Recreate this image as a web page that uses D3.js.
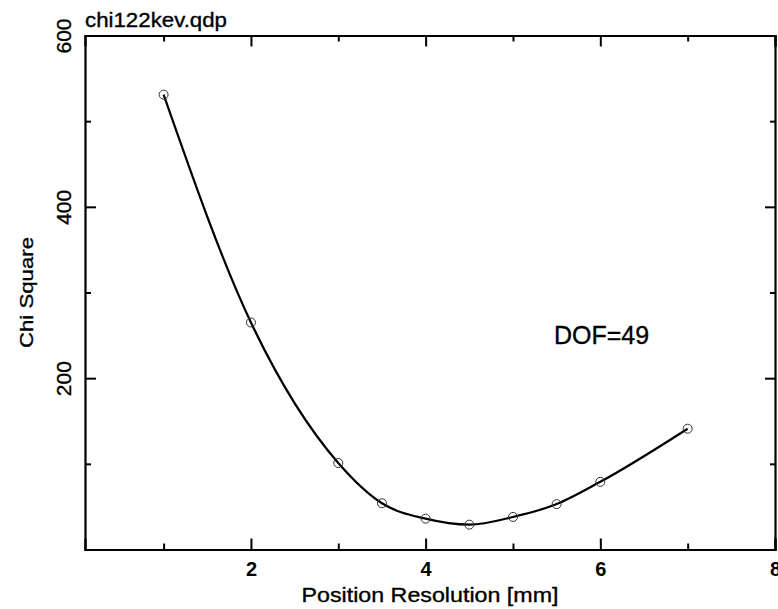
<!DOCTYPE html>
<html lang="en">
<head>
<meta charset="UTF-8">
<title>chi122kev.qdp</title>
<script src="https://d3js.org/d3.v7.min.js"></script>
<style>
html, body { margin: 0; padding: 0; background: #fff; }
svg { display: block; font-family: "Liberation Sans", Arial, sans-serif; }
.axis path, .axis line { stroke: #000; }
.lbl { stroke: #000; stroke-width: 0.35px; }
</style>
</head>
<body>
<div id="chart"></div>
<script>
// data
var resolution = [1, 2, 3, 3.5, 4, 4.5, 5, 5.5, 6, 7];
var chiSquare  = [531, 265, 101, 54, 36, 29, 38, 53, 79, 141];

var xMajor = [2, 4, 6, 8];
var xMinor = [1, 3, 5, 7];
var yMajor = [200, 400, 600];
var yMinor = [100, 300, 500];

var plotTitle = "chi122kev.qdp";
var xLabel = "Position Resolution [mm]";
var yLabel = "Chi Square";
var note = "DOF=49";

// page size and frame edges
var W = 778, H = 609;
var frame = {left: 85, right: 775, top: 35.5, bottom: 549.5};

var svg = d3.select("#chart")
    .append("svg")
    .attr("width", W)
    .attr("height", H);

var x = d3.scaleLinear().domain([0.1, 8]).range([frame.left, frame.right]);
var y = d3.scaleLinear().domain([0, 600]).range([frame.bottom, frame.top]);

// frame axes, ticks pointing inwards
function drawAxis(axis, tx, ty, cls) {
  var g = svg.append("g")
      .attr("class", "axis " + cls)
      .attr("transform", "translate(" + tx + "," + ty + ")")
      .call(axis);
  g.select(".domain").attr("stroke-width", 2.2);
  g.selectAll(".tick line").attr("stroke-width", 2);
  return g;
}

var xb = drawAxis(d3.axisBottom(x).tickValues(xMajor).tickSize(-11).tickPadding(12)
    .tickFormat(d3.format("d")), 0, frame.bottom, "xb");
drawAxis(d3.axisBottom(x).tickValues(xMinor).tickSize(-6).tickFormat(""), 0, frame.bottom, "xbm")
    .select(".domain").remove();
drawAxis(d3.axisTop(x).tickValues(xMajor).tickSize(-11).tickFormat(""), 0, frame.top, "xt");
drawAxis(d3.axisTop(x).tickValues(xMinor).tickSize(-6).tickFormat(""), 0, frame.top, "xtm")
    .select(".domain").remove();

var yl = drawAxis(d3.axisLeft(y).tickValues(yMajor).tickSize(-11)
    .tickFormat(d3.format("d")), frame.left, 0, "yl");
drawAxis(d3.axisLeft(y).tickValues(yMinor).tickSize(-6).tickFormat(""), frame.left, 0, "ylm")
    .select(".domain").remove();
drawAxis(d3.axisRight(y).tickValues(yMajor).tickSize(-10).tickFormat(""), frame.right, 0, "yr");
drawAxis(d3.axisRight(y).tickValues(yMinor).tickSize(-5).tickFormat(""), frame.right, 0, "yrm")
    .select(".domain").remove();

xb.selectAll("text")
    .attr("fill", "#000")
    .style("font-size", "20px")
    .style("font-weight", "bold");

yl.selectAll("text")
    .attr("class", "lbl")
    .attr("fill", "#000")
    .attr("x", null)
    .attr("dy", null)
    .attr("text-anchor", "middle")
    .attr("transform", "translate(-14,0) rotate(-90)")
    .style("font-size", "21px");

// the curve with open circles
var pts = resolution.map(function(d, i) { return [d, chiSquare[i]]; });

var line = d3.line()
    .x(function(d) { return x(d[0]); })
    .y(function(d) { return y(d[1]); })
    .curve(d3.curveMonotoneX);

svg.append("path")
    .datum(pts)
    .attr("fill", "none")
    .attr("stroke", "#000")
    .attr("stroke-width", 2.2)
    .attr("d", line);

svg.selectAll("circle.pt")
    .data(pts)
    .enter()
    .append("circle")
    .attr("class", "pt")
    .attr("cx", function(d) { return x(d[0]); })
    .attr("cy", function(d) { return y(d[1]); })
    .attr("r", 4.5)
    .attr("fill", "none")
    .attr("stroke", "#333")
    .attr("stroke-width", 1);

// texts
svg.append("text")
    .attr("class", "lbl")
    .attr("x", 85)
    .attr("y", 27)
    .attr("textLength", 142)
    .attr("lengthAdjust", "spacingAndGlyphs")
    .style("font-size", "20px")
    .text(plotTitle);

svg.append("text")
    .attr("class", "lbl")
    .attr("x", 430)
    .attr("y", 602)
    .attr("text-anchor", "middle")
    .attr("textLength", 257)
    .attr("lengthAdjust", "spacingAndGlyphs")
    .style("font-size", "21px")
    .text(xLabel);

svg.append("text")
    .attr("class", "lbl")
    .attr("transform", "translate(33,292.5) rotate(-90)")
    .attr("text-anchor", "middle")
    .attr("textLength", 111)
    .attr("lengthAdjust", "spacingAndGlyphs")
    .style("font-size", "19px")
    .text(yLabel);

svg.append("text")
    .attr("class", "lbl")
    .attr("x", 554)
    .attr("y", 344)
    .style("font-size", "25px")
    .text(note);
</script>
</body>
</html>
